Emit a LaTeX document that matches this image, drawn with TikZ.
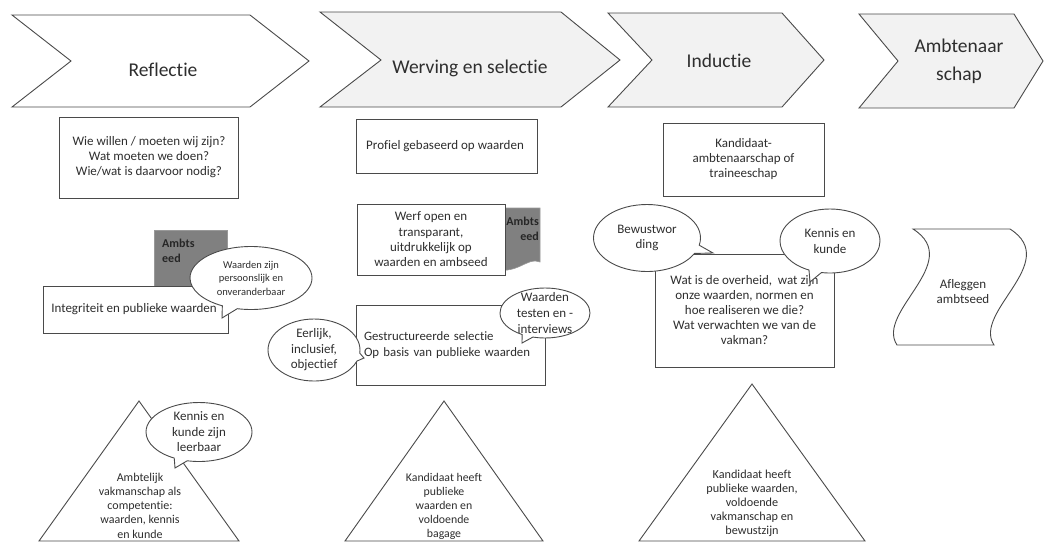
\documentclass[tikz,border=0pt]{standalone}
\usepackage{fontspec}
\setmainfont{Carlito}[Ligatures={NoCommon,NoRare,NoContextual}]
\usepackage{xcolor}
\usetikzlibrary{shapes.callouts}

\definecolor{lijn}{HTML}{4A4A4A}
\definecolor{tekst}{HTML}{2E2E2E}
\definecolor{pijlgrijs}{HTML}{F2F2F2}
\definecolor{eedgrijs}{HTML}{808080}

\begin{document}
\begin{tikzpicture}[
x=1pt, y=-1pt,
every node/.style={text=tekst},
chevron/.style={
	draw=lijn,
	line width=0.9pt,
	fill=pijlgrijs
},
fase/.style={
	align=center,
	font=\fontsize{19.5}{28}\selectfont
},
box/.style={
	rectangle,
	draw=lijn,
	line width=0.9pt,
	fill=white,
	align=center,
	font=\fontsize{13}{15}\selectfont
},
eed/.style={
	draw=black!40,
	line width=0.6pt,
	fill=eedgrijs
},
eedtekst/.style={
	text=black!85,
	inner sep=0pt,
	font=\fontsize{12}{15}\selectfont\bfseries
},
ballon/.style={
	ellipse callout,
	draw=lijn,
	line width=0.9pt,
	fill=white,
	align=center,
	inner sep=0pt,
	font=\fontsize{13}{15.5}\selectfont
},
piramide/.style={
	draw=lijn,
	line width=0.9pt,
	fill=white
},
pirtekst/.style={
	align=center,
	font=\fontsize{12}{14}\selectfont
}
]

\useasboundingbox (0,0) rectangle (1044,542);

\draw[chevron, fill=white] (12,15) -- (250,15) -- (309,61) -- (250,107) -- (12,107) -- (71,61) -- cycle;
\node[fase] (reflectie) at (163,70) {Reflectie};

\draw[chevron] (320,12) -- (561,12) -- (620,60) -- (561,107) -- (320,107) -- (381,60) -- cycle;
\node[fase] (werving) at (470,68) {Werving en selectie};

\draw[chevron] (608,13) -- (782,13) -- (824,60) -- (782,107) -- (608,107) -- (652,60) -- cycle;
\node[fase] (inductie) at (719,61) {Inductie};

\draw[chevron] (859,14) -- (1014,14) -- (1043,61) -- (1014,108) -- (859,108) -- (898,61) -- cycle;
\node[fase] (ambtenaarschap) at (959,61) {Ambtenaar\\schap};

\node[box, minimum width=179, minimum height=81] (vragen) at (149,157.5) {
	Wie willen / moeten wij zijn?\\
	Wat moeten we doen?\\
	Wie/wat is daarvoor nodig?
};

\node[box, minimum width=181, minimum height=54] (profiel) at (446.5,146) {
	Profiel gebaseerd op waarden
};

\node[box, minimum width=161, minimum height=73] (kandidaat) at (743.5,159.5) {
	Kandidaat-\\
	ambtenaarschap of\\
	traineeschap
};

\node[eed, minimum width=73, minimum height=60, anchor=north west] (eedlinks) at (154,230) {};
\node[eedtekst, align=left, anchor=north west] (eedlinkstekst) at (162,239) {Ambts\\eed};

\node[box, minimum width=185, minimum height=47] (integriteit) at (135.5,309.5) {
	Integriteit en publieke waarden
};

\node[ballon, minimum width=122, minimum height=63, font=\fontsize{10.5}{13.5}\selectfont,
	callout absolute pointer={(222,318)}] (persoonlijk) at (251,278) {
	Waarden zijn\\
	persoonslijk en\\
	onveranderbaar
};

\draw[eed] (490,208) -- (540,208) -- (540,262) .. controls (527,256) and (517,277) .. (490,268) -- cycle;
\node[eedtekst, align=right, anchor=north east] (eedwervingtekst) at (539,217) {Ambts\\eed};

\node[box, minimum width=148, minimum height=71, font=\fontsize{13}{15.3}\selectfont] (werf) at (431,239.5) {
	Werf open en\\
	transparant,\\
	uitdrukkelijk op\\
	waarden en ambseed
};

\node[box, minimum width=189, minimum height=80, text width=173, align=left, font=\fontsize{12.8}{16}\selectfont] (selectie) at (450.5,345) {
	Gestructureerde selectie\\
	Op basis van publieke waarden
};

\node[ballon, minimum width=90, minimum height=50, inner ysep=-9pt, inner xsep=-6pt, font=\fontsize{13}{16}\selectfont,
	callout absolute pointer={(522,343)}] (testen) at (545,313) {
	Waarden\\
	testen en -\\
	interviews
};

\node[ballon, minimum width=92, minimum height=62, inner ysep=-7pt, inner xsep=-4pt,
	callout absolute pointer={(364,358)}] (eerlijk) at (314,350) {
	Eerlijk,\\
	inclusief,\\
	objectief
};

\node[box, minimum width=179, minimum height=113] (overheid) at (744.5,310.5) {
	Wat is de overheid,~ wat zijn\\
	onze waarden, normen en\\
	hoe realiseren we die?\\
	Wat verwachten we van de\\
	vakman?
};

\node[ballon, minimum width=107, minimum height=67,
	callout absolute pointer={(713,253)}] (bewustwording) at (647,238) {
	Bewustwor\\
	ding
};

\node[ballon, minimum width=100, minimum height=64,
	callout absolute pointer={(810,282)}] (kennis) at (830,241) {
	Kennis en\\
	kunde
};

\draw[piramide] (913,229) -- (1010,229) .. controls (1062,262) and (972,312) .. (994,345)
	-- (897,345) .. controls (875,312) and (965,262) .. (913,229) -- cycle;
\node[pirtekst, font=\fontsize{13}{15}\selectfont] (afleggen) at (963,292) {
	Afleggen\\
	ambtseed
};

\draw[piramide] (139,401) -- (239,541) -- (39,541) -- cycle;
\node[pirtekst, font=\fontsize{12}{14.2}\selectfont] (vakmanschap) at (140,505.5) {
	Ambtelijk\\
	vakmanschap als\\
	competentie:\\
	waarden, kennis\\
	en kunde
};

\node[ballon, minimum width=106, minimum height=59, inner ysep=-6pt, inner xsep=-4pt,
	callout absolute pointer={(175,468)}] (leerbaar) at (199,432) {
	Kennis en\\
	kunde zijn\\
	leerbaar
};

\draw[piramide] (444,401) -- (543,541) -- (345,541) -- cycle;
\node[pirtekst, font=\fontsize{11.8}{14}\selectfont] (bagage) at (444,506) {
	Kandidaat heeft\\
	publieke\\
	waarden en\\
	voldoende\\
	bagage
};

\draw[piramide] (752,384) -- (865,541) -- (639,541) -- cycle;
\node[pirtekst, font=\fontsize{12.2}{14}\selectfont] (bewustzijn) at (752,503) {
	Kandidaat heeft\\
	publieke waarden,\\
	voldoende\\
	vakmanschap en\\
	bewustzijn
};

\end{tikzpicture}
\end{document}
